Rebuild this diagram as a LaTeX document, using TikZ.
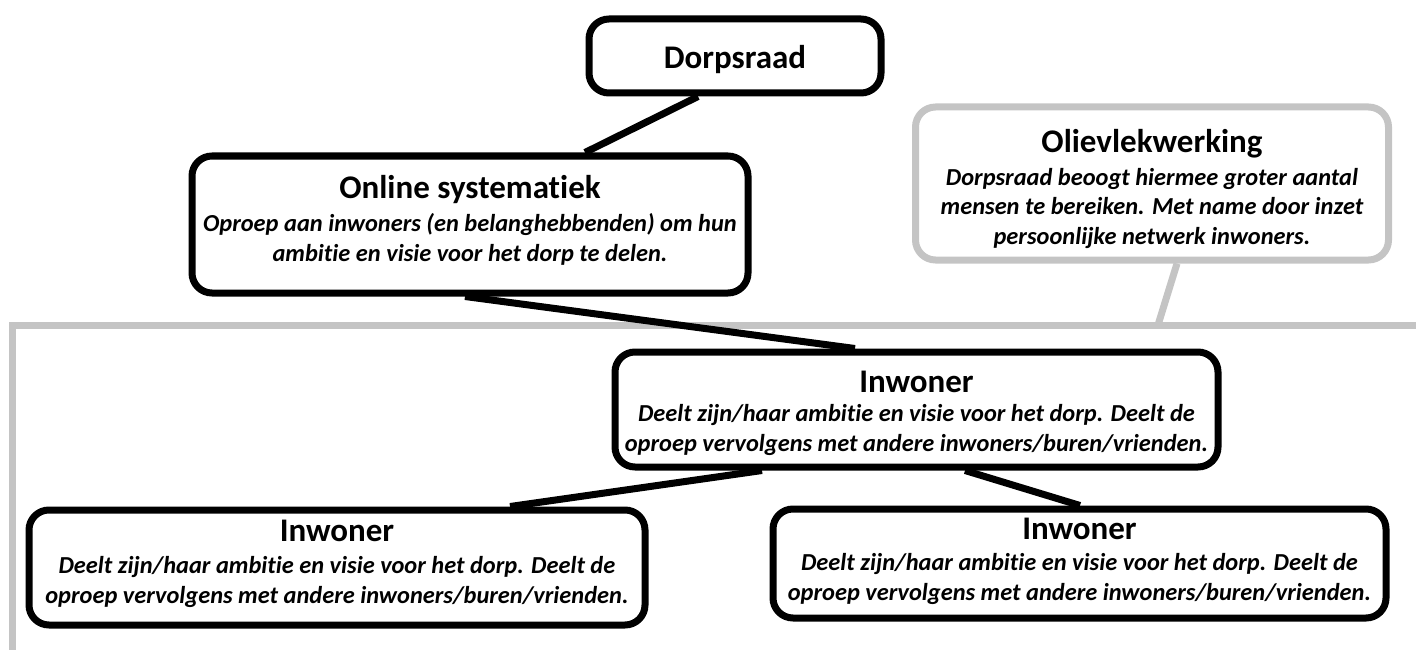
\documentclass[tikz,border=0pt]{standalone}
\usepackage{fontspec}
\setmainfont{Carlito}[Ligatures=NoCommon]
\usetikzlibrary{backgrounds}
\definecolor{framegray}{RGB}{196,196,196}
\tikzset{
  box/.style={draw=black, line width=7pt, rounded corners=20pt, fill=white, inner sep=0pt},
  gbox/.style={box, draw=framegray},
  link/.style={draw=black, line width=7pt},
  glink/.style={draw=framegray, line width=7pt},
  ttl/.style={font=\fontsize{33}{38}\selectfont\bfseries, inner sep=0pt, anchor=base},
  bdy/.style={font=\fontsize{24.4}{29.5}\selectfont\bfseries\itshape, align=center, inner sep=0pt, anchor=base}
}
\begin{document}
\begin{tikzpicture}[x=1pt, y=-1pt]
\useasboundingbox (0,0) rectangle (1416,650);
% boxes
\node[box, minimum width=292pt, minimum height=74pt] (dorp) at (735,56) {};
\node[box, minimum width=556pt, minimum height=137pt] (online) at (470,224.5) {};
\node[gbox, minimum width=473pt, minimum height=153pt] (olie) at (1152,183.5) {};
\node[box, minimum width=603pt, minimum height=115pt] (inwC) at (916.5,409.5) {};
\node[box, minimum width=616pt, minimum height=115pt] (inwL) at (337,567.5) {};
\node[box, minimum width=613pt, minimum height=109pt] (inwR) at (1079.5,563.5) {};
% frame and connectors behind the boxes
\begin{scope}[on background layer]
\coordinate (fbl) at (12,650);
\coordinate (ftl) at (12,325);
\coordinate (ftr) at (1416,325);
\draw[glink] (fbl) -- (ftl) -- (ftr);
\path[glink] (olie.south -| 1177,0) -- (ftr -| 1158,0);
\path[link] (dorp.south -| 698,0) -- (online.north -| 585,0);
\path[link] (online.south -| 465,0) -- (inwC.north -| 855,0);
\path[link] (inwC.south -| 762,0) -- (inwL.north -| 510,0);
\path[link] (inwC.south -| 965,0) -- (inwR.north -| 1080,0);
\end{scope}
% texts
\node[ttl] (dorpT) at (735,69) {Dorpsraad};
\node[ttl] (onlineT) at (470,198) {Online systematiek};
\node[bdy] (onlineB) at (470,261) {Oproep aan inwoners (en belanghebbenden) om hun\\ambitie en visie voor het dorp te delen.};
\node[ttl] (olieT) at (1152,153) {Olievlekwerking};
\node[bdy] (olieB) at (1152,244) {Dorpsraad beoogt hiermee groter aantal\\mensen te bereiken. Met name door inzet\\persoonlijke netwerk inwoners.};
\node[ttl] (inwCT) at (916.5,392) {Inwoner};
\node[bdy] (inwCB) at (916.5,451) {Deelt zijn/haar ambitie en visie voor het dorp. Deelt de\\oproep vervolgens met andere inwoners/buren/vrienden.};
\node[ttl] (inwLT) at (337,541) {Inwoner};
\node[bdy] (inwLB) at (337,603) {Deelt zijn/haar ambitie en visie voor het dorp. Deelt de\\oproep vervolgens met andere inwoners/buren/vrienden.};
\node[ttl] (inwRT) at (1079.5,539) {Inwoner};
\node[bdy] (inwRB) at (1079.5,600) {Deelt zijn/haar ambitie en visie voor het dorp. Deelt de\\oproep vervolgens met andere inwoners/buren/vrienden.};
\end{tikzpicture}
\end{document}
